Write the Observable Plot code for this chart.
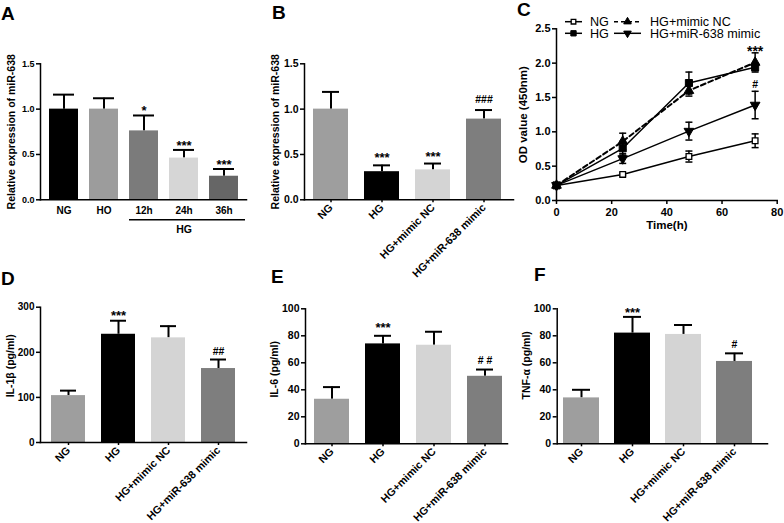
<!DOCTYPE html>
<html><head><meta charset="utf-8">
<script src="https://cdn.jsdelivr.net/npm/d3@7"></script>
<script src="https://cdn.jsdelivr.net/npm/@observablehq/plot@0.6"></script>
<style>
body{margin:0;background:#fff;}
#fig{position:relative;width:784px;height:523px;overflow:hidden;background:#fff;font-family:"Liberation Sans",Arial,Helvetica,sans-serif;}
.panel{position:absolute;}
#overlay{position:absolute;left:0;top:0;pointer-events:none;}
</style></head>
<body><div id="fig"></div>
<script>
// ---------- DATA ----------
// Panel A
const groupsA = ["NG", "HO", "12h", "24h", "36h"];
const meanA = [1.0, 1.0, 0.76, 0.46, 0.26];
const errA = [0.16, 0.12, 0.17, 0.09, 0.08];
const sigA = ["", "", "*", "***", "***"];
const colorsA = ["#000000", "#9c9c9c", "#7b7b7b", "#d6d6d6", "#666666"];
const bracketA = [{from: "12h", to: "36h", mid: "24h", label: "HG"}];
const ticksA = [0, 0.5, 1.0, 1.5];

// Panels B, D, E, F
const groups4 = ["NG", "HG", "HG+mimic NC", "HG+miR-638 mimic"];
const colors4 = ["#9e9e9e", "#000000", "#d4d4d4", "#7e7e7e"];
const meanB = [1.0, 0.31, 0.33, 0.89];
const errB = [0.19, 0.07, 0.07, 0.10];
const sigB = ["", "***", "***", "###"];
const ticksB = [0, 0.5, 1.0, 1.5];

const meanD = [104, 240, 232, 164];
const errD = [11, 30, 26, 20];
const sigD = ["", "***", "", "##"];
const ticksD = [0, 100, 200, 300];

const meanE = [33, 74, 73, 50];
const errE = [9, 6, 10, 5];
const sigE = ["", "***", "", "# #"];
const ticksE = [0, 20, 40, 60, 80, 100];

const meanF = [34, 82, 81, 61];
const errF = [6, 12, 7, 6];
const sigF = ["", "***", "", "#"];
const ticksF = [0, 20, 40, 60, 80, 100];

// Panel C
const timesC = [0, 24, 48, 72];
const seriesC = ["NG", "HG", "HG+mimic NC", "HG+miR-638 mimic"];
const odNG = [0.22, 0.38, 0.64, 0.87];
const errNG = [0.02, 0.02, 0.08, 0.10];
const odHG = [0.22, 0.76, 1.71, 1.94];
const errHG = [0.02, 0.10, 0.16, 0.05];
const odNC = [0.22, 0.86, 1.60, 2.01];
const errNC = [0.02, 0.12, 0.08, 0.14];
const odMimic = [0.22, 0.61, 1.01, 1.39];
const errMimic = [0.02, 0.07, 0.13, 0.20];
const annC = [{s: "HG+mimic NC", t: 72, text: "***"}, {s: "HG+miR-638 mimic", t: 72, text: "#"}];
const ticksCx = [0, 20, 40, 60, 80];
const ticksCy = [0, 0.5, 1.0, 1.5, 2.0, 2.5];

// ---------- DRAWING ----------
const FONT = '"Liberation Sans", Arial, Helvetica, sans-serif';
const fig = document.getElementById("fig");

function place(el, left, top) {
  const d = document.createElement("div");
  d.className = "panel";
  d.style.left = left + "px";
  d.style.top = top + "px";
  d.appendChild(el);
  fig.appendChild(d);
}

function barPanel(c) {
  const data = c.groups.map((g, i) => ({g, m: c.means[i], e: c.errs[i], s: c.sigs[i]}));
  const stars = data.filter(d => d.s.includes("*"));
  const hashes = data.filter(d => d.s.includes("#"));
  const marks = [
    Plot.ruleX(data, {x: "g", y1: "m", y2: d => d.m + d.e, stroke: "#000", strokeWidth: 2}),
    Plot.tickY(data, {x: "g", y: d => d.m + d.e, stroke: "#000", strokeWidth: 2, insetLeft: c.capInset, insetRight: c.capInset}),
    Plot.barY(data, {x: "g", y: "m", fill: "g"}),
    Plot.text(stars, {x: "g", y: d => d.m + d.e, text: "s", lineAnchor: "bottom", dy: c.starDy, fontSize: 13, fontWeight: "bold"}),
    Plot.text(hashes, {x: "g", y: d => d.m + d.e, text: "s", lineAnchor: "bottom", dy: c.hashDy, fontSize: 10.5, fontWeight: "bold"}),
    Plot.axisY({ticks: c.yTicks, tickFormat: c.tickFormat, tickSize: 4, tickPadding: 2, fontSize: c.yFont || 10, strokeWidth: 1.5, label: null}),
    c.rotate
      ? Plot.axisX({tickSize: 3, tickPadding: 3, tickRotate: -45, fontSize: 10.8, strokeWidth: 1.5, label: null})
      : Plot.axisX({tickSize: 0, tickPadding: 7, fontSize: 10, label: null}),
    Plot.frame({anchor: "left", strokeWidth: 1.5}),
    Plot.frame({anchor: "bottom", strokeWidth: 1.5}),
    Plot.text([c.yLabel], {text: d => d, frameAnchor: "left", textAnchor: "middle", lineAnchor: "middle", dx: c.labelDx, dy: c.labelDy || 0, rotate: -90, fontSize: c.labelFont || 10.5, fontWeight: "bold"})
  ];
  if (c.extra) marks.push(...c.extra);
  const svg = Plot.plot({
    width: c.width, height: c.height,
    marginLeft: c.mL, marginRight: c.mR, marginTop: c.mT, marginBottom: c.mB,
    style: {fontFamily: FONT, fontWeight: "bold", background: "transparent", overflow: "visible", color: "#000"},
    x: {domain: c.groups, paddingInner: c.pi, paddingOuter: c.po, align: c.align},
    y: {domain: c.yDomain},
    color: {domain: c.groups, range: c.colors},
    marks
  });
  place(svg, c.left, c.top);
}

// Panel A
barPanel({
  groups: groupsA, means: meanA, errs: errA, sigs: sigA, colors: colorsA,
  yDomain: [0, 1.5], yTicks: ticksA, tickFormat: ".1f", yLabel: "Relative expression of miR-638",
  left: 0, top: 0, width: 260, height: 260, mL: 40, mR: 14, mT: 63.3, mB: 60.7,
  pi: 0.286, po: 0.18, align: 0.53, capInset: 4, starDy: 0, hashDy: -4, labelDx: -29, rotate: false, yFont: 9,
  extra: [
    Plot.ruleY(bracketA, {y: () => 0, x1: "from", x2: "to", dy: 20, strokeWidth: 1.5, insetRight: -7}),
    Plot.text(bracketA, {x: "mid", y: () => 0, text: "label", dy: 30, fontSize: 10.5, fontWeight: "bold"})
  ]
});

// Panel B
barPanel({
  groups: groups4, means: meanB, errs: errB, sigs: sigB, colors: colors4,
  yDomain: [0, 1.5], yTicks: ticksB, tickFormat: ".1f", yLabel: "Relative expression of miR-638",
  left: 250, top: 0, width: 265, height: 260, mL: 54, mR: 2, mT: 63.3, mB: 60.7,
  pi: 0.304, po: 0.2, align: 0.42, capInset: 9, starDy: -3, hashDy: -7, labelDx: -29, rotate: true, yFont: 10.5
});

// Panel D
barPanel({
  groups: groups4, means: meanD, errs: errD, sigs: sigD, colors: colors4,
  yDomain: [0, 300], yTicks: ticksD, tickFormat: "d", yLabel: "IL-1\u03B2 (pg/ml)",
  left: 0, top: 260, width: 260, height: 263, mL: 40, mR: 14, mT: 46.7, mB: 81,
  pi: 0.314, po: 0.18, align: 0.5, capInset: 9, starDy: -1, hashDy: -5, labelDx: -30, labelDy: -9, rotate: true, yFont: 10
});

// Panel E
barPanel({
  groups: groups4, means: meanE, errs: errE, sigs: sigE, colors: colors4,
  yDomain: [0, 100], yTicks: ticksE, tickFormat: "d", yLabel: "IL-6 (pg/ml)",
  left: 260, top: 260, width: 260, height: 263, mL: 45, mR: 13, mT: 48.3, mB: 79.7,
  pi: 0.304, po: 0.13, align: 0.67, capInset: 9, starDy: -4, hashDy: -6, labelDx: -31, labelDy: -7, rotate: true, yFont: 10.5
});

// Panel F
barPanel({
  groups: groups4, means: meanF, errs: errF, sigs: sigF, colors: colors4,
  yDomain: [0, 100], yTicks: ticksF, tickFormat: "d", yLabel: "TNF-\u03B1 (pg/ml)",
  left: 520, top: 260, width: 264, height: 263, mL: 36.7, mR: 17, mT: 48.3, mB: 79.7,
  pi: 0.294, po: 0.206, align: 0.3, capInset: 9, starDy: 0, hashDy: -5, labelDx: -31, labelDy: -11, rotate: true, yFont: 10.5
});

// Panel C
const valuesC = [odNG, odHG, odNC, odMimic];
const errorsC = [errNG, errHG, errNC, errMimic];
const rowsC = [];
seriesC.forEach((s, si) => timesC.forEach((t, ti) => rowsC.push({s, t, v: valuesC[si][ti], e: errorsC[si][ti]})));
const capSym = {draw(ctx, size) { const w = Math.sqrt(size / Math.PI); ctx.moveTo(-w, 0); ctx.lineTo(w, 0); }};
const triDown = {draw(ctx, size) {
  const y = -Math.sqrt(size / (Math.sqrt(3) * 3));
  ctx.moveTo(0, -y * 2); ctx.lineTo(-Math.sqrt(3) * y, y); ctx.lineTo(Math.sqrt(3) * y, y); ctx.closePath();
}};
const styleC = [
  {symbol: "square", fill: "#fff", r: 3.2, sw: 1.3},
  {symbol: "square", fill: "#000", r: 4, sw: 1},
  {symbol: "triangle", fill: "#000", r: 3.6, sw: 1},
  {symbol: triDown, fill: "#000", r: 3.6, sw: 1}
];
const annRows = annC.map(a => { const r = rowsC.find(d => d.s === a.s && d.t === a.t); return {...a, y: r.v + r.e}; });
const svgC = Plot.plot({
  width: 274, height: 260, marginLeft: 46, marginRight: 7.3, marginTop: 28.3, marginBottom: 60,
  style: {fontFamily: FONT, fontWeight: "bold", background: "transparent", overflow: "visible", color: "#000"},
  x: {domain: [0, 80]},
  y: {domain: [0, 2.5]},
  marks: [
    Plot.ruleX(rowsC, {x: "t", y1: d => d.v - d.e, y2: d => d.v + d.e, stroke: "#000", strokeWidth: 1.5}),
    Plot.dot(rowsC, {x: "t", y: d => d.v + d.e, symbol: capSym, r: 3.5, stroke: "#000", fill: "none", strokeWidth: 1.5}),
    Plot.dot(rowsC, {x: "t", y: d => d.v - d.e, symbol: capSym, r: 3.5, stroke: "#000", fill: "none", strokeWidth: 1.5}),
    Plot.line(rowsC.filter(d => d.s !== "HG+mimic NC"), {x: "t", y: "v", z: "s", stroke: "#000", strokeWidth: 1.5}),
    Plot.line(rowsC.filter(d => d.s === "HG+mimic NC"), {x: "t", y: "v", stroke: "#000", strokeWidth: 2, strokeDasharray: "5,3"}),
    ...seriesC.map((s, i) => Plot.dot(rowsC.filter(d => d.s === s), {
      x: "t", y: "v", symbol: styleC[i].symbol, r: styleC[i].r, fill: styleC[i].fill, stroke: "#000", strokeWidth: styleC[i].sw
    })),
    Plot.text(annRows.filter(d => d.text.includes("*")), {x: "t", y: "y", text: "text", lineAnchor: "bottom", dy: 3, fontSize: 14, fontWeight: "bold"}),
    Plot.text(annRows.filter(d => d.text.includes("#")), {x: "t", y: "y", text: "text", lineAnchor: "bottom", dy: -3, fontSize: 10.5, fontWeight: "bold"}),
    Plot.axisX({ticks: ticksCx, tickFormat: "d", tickSize: 4, tickPadding: 4, fontSize: 11, strokeWidth: 1.5, label: null}),
    Plot.axisY({ticks: ticksCy, tickFormat: ".1f", tickSize: 4, tickPadding: 2, fontSize: 11, strokeWidth: 1.5, label: null}),
    Plot.frame({anchor: "left", strokeWidth: 1.5}),
    Plot.frame({anchor: "bottom", strokeWidth: 1.5}),
    Plot.text(["Time(h)"], {text: d => d, frameAnchor: "bottom", textAnchor: "middle", lineAnchor: "middle", dy: 25, fontSize: 11.5, fontWeight: "bold"}),
    Plot.text(["OD value (450nm)"], {text: d => d, frameAnchor: "left", textAnchor: "middle", lineAnchor: "middle", dx: -33, rotate: -90, fontSize: 11.5, fontWeight: "bold"})
  ]
});
place(svgC, 510, 0);

// Overlay: panel letters + legend for C
const NS = "http://www.w3.org/2000/svg";
const ov = document.createElementNS(NS, "svg");
ov.setAttribute("id", "overlay");
ov.setAttribute("width", 784); ov.setAttribute("height", 523);
fig.appendChild(ov);
function addText(x, y, str, size, weight, anchor) {
  const t = document.createElementNS(NS, "text");
  t.setAttribute("x", x); t.setAttribute("y", y);
  t.setAttribute("font-family", FONT); t.setAttribute("font-size", size);
  t.setAttribute("font-weight", weight || "bold");
  if (anchor) t.setAttribute("text-anchor", anchor);
  t.textContent = str; ov.appendChild(t);
}
const letters = [["A", 1, 20], ["B", 272, 19], ["C", 517, 16], ["D", 1, 285], ["E", 271, 283], ["F", 534, 281]];
letters.forEach(([l, x, y]) => addText(x, y, l, 19, "bold"));

// legend
const legendPos = [
  {x0: 565, x1: 582, cx: 573.5, cy: 21.7, tx: 590, dash: null},
  {x0: 565, x1: 582, cx: 573.5, cy: 33.3, tx: 590, dash: null},
  {x0: 614, x1: 641, cx: 627.5, cy: 21.7, tx: 650, dash: "4,3"},
  {x0: 614, x1: 641, cx: 627.5, cy: 33.3, tx: 650, dash: null}
];
const legendR = [2.6, 3.0, 2.8, 2.8];
const d3sym = [d3.symbolSquare, d3.symbolSquare, d3.symbolTriangle, triDown];
seriesC.forEach((s, i) => {
  const p = legendPos[i];
  const ln = document.createElementNS(NS, "line");
  ln.setAttribute("x1", p.x0); ln.setAttribute("x2", p.x1);
  ln.setAttribute("y1", p.cy); ln.setAttribute("y2", p.cy);
  ln.setAttribute("stroke", "#000"); ln.setAttribute("stroke-width", 1.5);
  if (p.dash) ln.setAttribute("stroke-dasharray", p.dash);
  ov.appendChild(ln);
  const path = document.createElementNS(NS, "path");
  const r = legendR[i];
  path.setAttribute("d", d3.symbol(d3sym[i], r * r * Math.PI)());
  path.setAttribute("transform", `translate(${p.cx},${p.cy})`);
  path.setAttribute("fill", styleC[i].fill); path.setAttribute("stroke", "#000");
  path.setAttribute("stroke-width", styleC[i].sw);
  ov.appendChild(path);
  addText(p.tx, p.cy + 4.6, s, 12.6, "normal");
});
</script>
</body></html>
